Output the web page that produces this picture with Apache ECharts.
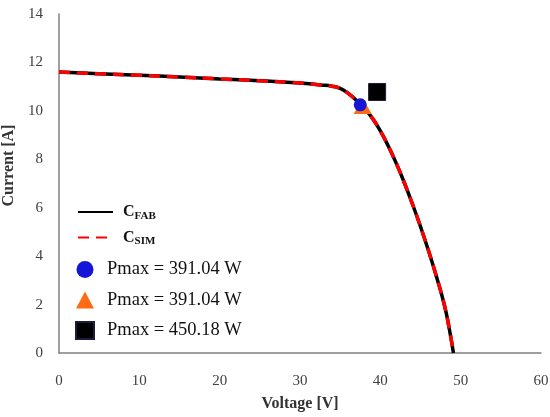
<!DOCTYPE html>
<html>
<head>
<meta charset="utf-8">
<script src="https://cdn.jsdelivr.net/npm/echarts@6/dist/echarts.min.js"></script>
<style>
  html, body { margin: 0; padding: 0; background: #fff; }
  #chart { width: 550px; height: 417px; }
</style>
</head>
<body>
<div id="chart"></div>
<script>
// I-V curve, voltage [V] / current [A]
var voltage = [0, 5, 10, 15, 20, 25, 30, 32.5, 34, 35, 36, 37, 38, 39, 40, 41, 42, 43, 44, 45, 46, 47, 48, 48.6, 49.1];
var currentFab = [11.6, 11.53, 11.47, 11.4, 11.32, 11.24, 11.15, 11.07, 11.02, 10.93, 10.72, 10.44, 10.1, 9.7, 9.17, 8.54, 7.82, 7.02, 6.15, 5.22, 4.22, 3.14, 1.94, 0.97, 0];
var currentSim = [11.6, 11.53, 11.47, 11.4, 11.32, 11.24, 11.15, 11.07, 11.02, 10.93, 10.72, 10.44, 10.1, 9.7, 9.17, 8.54, 7.82, 7.02, 6.15, 5.22, 4.22, 3.14, 1.94, 0.97, 0];

// maximum power points [V, A]
var pmaxFab = [37.5, 10.25];
var pmaxSim = [37.8, 10.2];
var pmaxRef = [39.6, 10.78];

var pointNames = ['pFab', 'pSim', 'pRef'];
var pointLabels = ['Pmax = 391.04 W', 'Pmax = 391.04 W', 'Pmax = 450.18 W'];

var xTicks = { min: 0, max: 60, interval: 10 };
var yTicks = { min: 0, max: 14, interval: 2 };

function pairs(xs, ys) {
  var out = [];
  for (var i = 0; i < xs.length; i++) out.push([xs[i], ys[i]]);
  return out;
}

var serif = 'Liberation Serif';
var myChart = echarts.init(document.getElementById('chart'));

var option = {
  animation: false,
  textStyle: { fontFamily: serif },
  grid: { left: 59, right: 9, top: 14, bottom: 64, containLabel: false, outerBoundsMode: 'none' },
  legend: [{
    left: 72,
    top: 199,
    orient: 'vertical',
    itemWidth: 35,
    itemHeight: 14,
    itemGap: 8,
    data: ['CFAB', 'CSIM'],
    itemStyle: { color: 'rgba(0,0,0,0)', borderWidth: 0 },
    formatter: function (name) {
      return '{c|C}{s|' + name.slice(1) + '}';
    },
    textStyle: {
      padding: [0, 0, 0, 5],
      rich: {
        c: { fontFamily: serif, fontSize: 16, fontWeight: 'bold', color: '#111' },
        s: { fontFamily: serif, fontSize: 11, fontWeight: 'bold', color: '#111', padding: [8, 0, 0, 0] }
      }
    }
  }, {
    left: 70,
    top: 255,
    orient: 'vertical',
    itemWidth: 18,
    itemHeight: 17,
    itemGap: 11.5,
    data: pointNames,
    formatter: function (name) {
      return pointLabels[pointNames.indexOf(name)];
    },
    textStyle: { fontFamily: serif, fontSize: 18.5, color: '#111', padding: [0, 0, 0, 8] }
  }],
  xAxis: {
    type: 'value',
    min: xTicks.min,
    max: xTicks.max,
    interval: xTicks.interval,
    name: 'Voltage [V]',
    nameLocation: 'middle',
    nameGap: 43,
    nameTextStyle: { fontFamily: serif, fontSize: 16, fontWeight: 'bold', color: '#333' },
    axisLine: { show: true, lineStyle: { color: '#808080', width: 1.5 } },
    axisTick: { show: false },
    splitLine: { show: false },
    axisLabel: { margin: 21, fontFamily: serif, fontSize: 15, color: '#404040' }
  },
  yAxis: {
    type: 'value',
    min: yTicks.min,
    max: yTicks.max,
    interval: yTicks.interval,
    name: 'Current [A]',
    nameLocation: 'middle',
    nameGap: 36,
    nameTextStyle: { fontFamily: serif, fontSize: 16, fontWeight: 'bold', color: '#333', padding: [0, 0, 0, 36] },
    axisLine: { show: true, lineStyle: { color: '#808080', width: 1.5 } },
    axisTick: { show: false },
    splitLine: { show: false },
    axisLabel: { margin: 16, fontFamily: serif, fontSize: 15, color: '#404040' }
  },
  series: [{
    name: 'CFAB',
    type: 'line',
    smooth: 0.5,
    symbol: 'none',
    data: pairs(voltage, currentFab),
    lineStyle: { color: '#000', width: 3.5 },
    itemStyle: { color: '#000' },
    z: 2
  }, {
    name: 'CSIM',
    type: 'line',
    smooth: 0.5,
    symbol: 'none',
    data: pairs(voltage, currentSim),
    lineStyle: { color: '#ff0000', width: 3.5, type: [11, 7] },
    itemStyle: { color: '#ff0000' },
    z: 3
  }, {
    name: 'pRef',
    type: 'scatter',
    symbol: 'rect',
    symbolSize: 17,
    data: [pmaxRef],
    itemStyle: { color: '#000', opacity: 1, borderColor: '#1c1c3a', borderWidth: 1 },
    z: 4
  }, {
    name: 'pSim',
    type: 'scatter',
    symbol: 'triangle',
    symbolSize: [18, 16],
    data: [pmaxSim],
    itemStyle: { color: '#ff6a13', opacity: 1 },
    z: 5
  }, {
    name: 'pFab',
    type: 'scatter',
    symbol: 'circle',
    symbolSize: 13,
    data: [pmaxFab],
    itemStyle: { color: '#1515d8', opacity: 1 },
    z: 6
  }]
};

myChart.clear();
myChart.setOption(option);
</script>
</body>
</html>
